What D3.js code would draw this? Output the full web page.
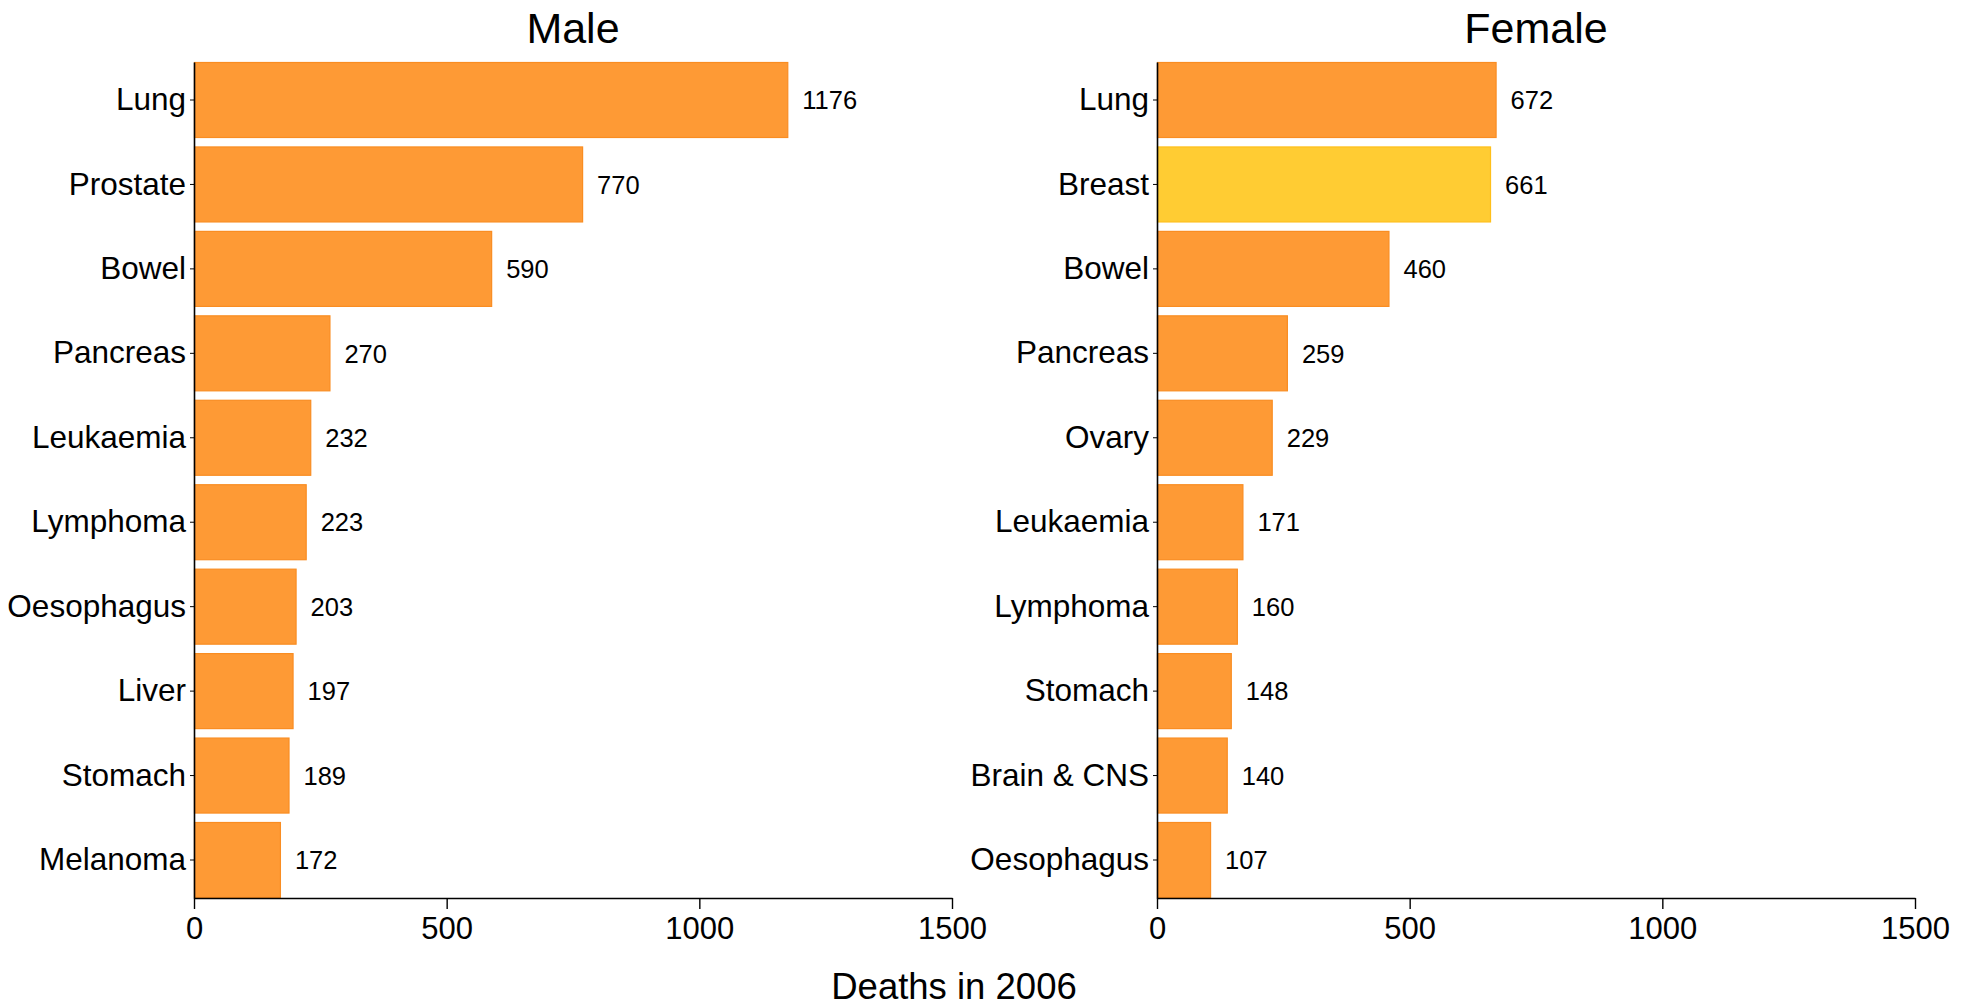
<!DOCTYPE html>
<html>
<head>
<meta charset="utf-8">
<script src="https://cdn.jsdelivr.net/npm/d3@7"></script>
<style>
  body { margin: 0; background: #fff; }
  svg { display: block; font-family: "Liberation Sans", Arial, Helvetica, sans-serif; }
</style>
</head>
<body>
<svg id="chart" width="1970" height="1007"></svg>
<script>
const maleCategories = ["Lung", "Prostate", "Bowel", "Pancreas", "Leukaemia", "Lymphoma", "Oesophagus", "Liver", "Stomach", "Melanoma"];
const maleValues = [1176, 770, 590, 270, 232, 223, 203, 197, 189, 172];
const femaleCategories = ["Lung", "Breast", "Bowel", "Pancreas", "Ovary", "Leukaemia", "Lymphoma", "Stomach", "Brain & CNS", "Oesophagus"];
const femaleValues = [672, 661, 460, 259, 229, 171, 160, 148, 140, 107];
const highlightCategory = { Male: null, Female: "Breast" };
const tickValues = [0, 500, 1000, 1500];
const panelTitles = ["Male", "Female"];
const xAxisTitle = "Deaths in 2006";

const svg = d3.select("#chart");
const plotTop = 62, plotBottom = 898;
const panels = [
  { title: panelTitles[0], cats: maleCategories, vals: maleValues, x0: 194, x1: 952 },
  { title: panelTitles[1], cats: femaleCategories, vals: femaleValues, x0: 1157, x1: 1915 }
];

panels.forEach(p => {
  const x = d3.scaleLinear().domain([0, 1500]).range([p.x0, p.x1]);
  const y = d3.scaleBand().domain(p.cats).range([plotTop, plotBottom]).paddingInner(0.1).paddingOuter(0);
  const g = svg.append("g");
  const data = p.cats.map((c, i) => ({ c, v: p.vals[i] }));

  g.selectAll("rect.bar").data(data).enter().append("rect")
    .attr("class", "bar")
    .attr("x", x(0) + 0.5)
    .attr("y", d => y(d.c) + 0.5)
    .attr("width", d => x(d.v) - x(0) - 1)
    .attr("height", y.bandwidth() - 1)
    .attr("fill", d => d.c === highlightCategory[p.title] ? "#ffcc33" : "#fe9a35")
    .attr("stroke", d => d.c === highlightCategory[p.title] ? "#ffbf1a" : "#f98d22")
    .attr("stroke-width", 1.2);

  g.selectAll("text.val").data(data).enter().append("text")
    .attr("class", "val")
    .attr("x", d => x(d.v) + 14)
    .attr("y", d => y(d.c) + y.bandwidth() / 2)
    .attr("dy", "0.36em")
    .attr("font-size", 25.5)
    .attr("fill", "#000")
    .text(d => d.v);

  const xa = g.append("g").attr("transform", `translate(0,${plotBottom})`)
    .call(d3.axisBottom(x).tickValues(tickValues).tickSize(11).tickSizeOuter(0).tickPadding(8).tickFormat(d3.format("d")));
  xa.select(".domain").attr("stroke", "#000").attr("stroke-width", 1.6);
  xa.selectAll(".tick line").attr("stroke", "#000").attr("stroke-width", 1.4);
  xa.selectAll(".tick text").attr("font-size", 31).attr("font-family", "Liberation Sans, Arial, sans-serif").attr("fill", "#000");

  const ya = g.append("g").attr("transform", `translate(${p.x0},0)`)
    .call(d3.axisLeft(y).tickSize(4).tickSizeOuter(0).tickPadding(4));
  ya.select(".domain").attr("stroke", "#000").attr("stroke-width", 1.6);
  ya.selectAll(".tick line").attr("stroke", "#000").attr("stroke-width", 1);
  ya.selectAll(".tick text").attr("font-size", 31.5).attr("font-family", "Liberation Sans, Arial, sans-serif").attr("fill", "#000");

  g.append("text")
    .attr("x", (p.x0 + p.x1) / 2)
    .attr("y", 42.5)
    .attr("text-anchor", "middle")
    .attr("font-size", 43)
    .attr("fill", "#000")
    .text(p.title);
});

svg.append("text")
  .attr("x", 954)
  .attr("y", 999)
  .attr("text-anchor", "middle")
  .attr("font-size", 36.5)
  .attr("fill", "#000")
  .text(xAxisTitle);
</script>
</body>
</html>
